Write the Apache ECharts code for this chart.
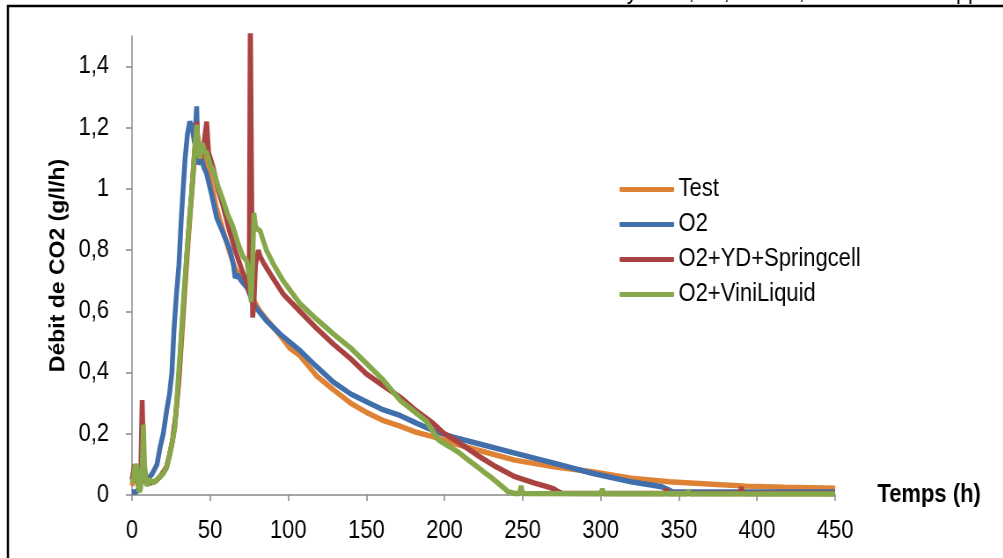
<!DOCTYPE html>
<html>
<head>
<meta charset="utf-8">
<script src="https://cdn.jsdelivr.net/npm/echarts@6/dist/echarts.min.js"></script>
<style>
html,body{margin:0;padding:0;background:#fff;overflow:hidden;width:1003px;height:558px}
#c{width:1140px;height:558px;transform:scaleX(0.88);transform-origin:0 0}
</style>
</head>
<body>
<div id="c"></div>
<script>
var seriesNames = ['Test', 'O2', 'O2+YD+Springcell', 'O2+ViniLiquid'];
var xTicks = [0, 50, 100, 150, 200, 250, 300, 350, 400, 450];
var yTicks = [0, 0.2, 0.4, 0.6, 0.8, 1.0, 1.2, 1.4];

var testData = [[0,0.03],[2,0.08],[4,0.03],[6,0.05],[8,0.06],[10,0.05],[12,0.04],[15,0.045],[18,0.06],[22,0.09],[24,0.13],[26,0.18],[28,0.26],[30,0.37],[32,0.52],[34,0.68],[36,0.83],[38.2,0.98],[40,1.1],[41.5,1.2],[43,1.13],[45,1.12],[47,1.1],[50,1.04],[54,0.94],[58,0.87],[62,0.8],[66,0.74],[70,0.71],[74,0.675],[77.5,0.64],[82,0.6],[86,0.575],[95,0.52],[101,0.48],[107.5,0.455],[118,0.39],[128.7,0.345],[140,0.3],[150,0.27],[160,0.245],[171.5,0.225],[182,0.205],[193,0.19],[205,0.17],[221,0.147],[245,0.114],[270,0.092],[294.5,0.076],[319.4,0.055],[343.7,0.043],[368.5,0.036],[393,0.029],[417.7,0.025],[450,0.022]];

var o2Data = [[0,0.01],[3,0.01],[5,0.03],[7,0.05],[10,0.05],[13,0.07],[16,0.1],[18,0.157],[20,0.2],[22.2,0.277],[24,0.33],[25.5,0.4],[27,0.55],[28.5,0.66],[30,0.75],[31.5,0.9],[32.7,1.0],[34,1.1],[35.5,1.18],[37,1.22],[38.5,1.2],[40,1.15],[41.4,1.27],[42.3,1.08],[44,1.11],[46,1.07],[47.8,1.05],[51,0.98],[54.2,0.906],[58,0.86],[62.7,0.8],[65,0.75],[66,0.71],[67.5,0.72],[70,0.7],[74,0.675],[77.5,0.625],[82,0.595],[86,0.57],[95,0.525],[107.5,0.472],[118,0.42],[128.7,0.37],[140,0.33],[150,0.305],[160,0.28],[171.5,0.26],[182,0.235],[193,0.21],[205,0.19],[220,0.17],[245,0.137],[270,0.104],[294.5,0.071],[319.4,0.043],[339,0.027],[343.7,0.016],[346,0.01],[450,0.01]];

var ydData = [[0,0.05],[1.5,0.1],[2.5,0.1],[4,0.03],[5.5,0.05],[6.5,0.31],[7.5,0.1],[9,0.04],[12,0.04],[15,0.045],[18,0.06],[22,0.09],[24,0.13],[26,0.18],[28,0.26],[30,0.38],[32,0.55],[34,0.7],[36,0.85],[38.2,0.99],[40,1.12],[41.4,1.22],[42.5,1.12],[44,1.1],[46,1.15],[47.8,1.22],[49,1.12],[52,1.07],[55,1.0],[58.5,0.94],[62,0.87],[66,0.8],[70,0.74],[73,0.7],[75,0.66],[75.7,1.6],[76.5,1.6],[77.2,0.58],[78,0.62],[79,0.75],[80.8,0.8],[82,0.78],[84,0.76],[86,0.743],[90,0.71],[96.7,0.657],[107.5,0.6],[118,0.545],[128.7,0.494],[140,0.445],[150,0.396],[160,0.36],[171.5,0.32],[182,0.275],[192.7,0.234],[200,0.2],[210,0.169],[221,0.13],[233,0.092],[245,0.06],[257.7,0.039],[265,0.028],[270,0.02],[272.5,0.011],[275,0.006],[341,0.005],[342,0.02],[343,0.005],[389,0.005],[390,0.025],[391,0.005],[450,0.005]];

var viniData = [[0,0.04],[0.8,0.05],[2,0.1],[3,0.09],[4.5,0.01],[5.5,0.02],[6.5,0.1],[7.3,0.23],[8,0.1],[9.4,0.03],[11,0.05],[13.6,0.04],[16,0.05],[18,0.06],[20,0.07],[22.2,0.09],[24,0.13],[26,0.18],[27.5,0.22],[29.5,0.375],[31,0.48],[32.5,0.6],[33.8,0.7],[36,0.85],[38.2,0.99],[40,1.12],[41.4,1.21],[42.5,1.12],[43.5,1.1],[45,1.15],[46.5,1.12],[47.8,1.12],[50,1.08],[52,1.06],[55,1.01],[58.5,0.96],[61,0.92],[64.8,0.874],[68,0.82],[71,0.78],[73.4,0.765],[75.5,0.7],[76.3,0.63],[77.2,0.75],[78,0.922],[79,0.88],[80,0.87],[82,0.863],[86,0.8],[90.4,0.755],[96.7,0.7],[107.5,0.625],[118,0.575],[128.7,0.527],[140,0.48],[150,0.43],[160,0.38],[171.5,0.31],[180,0.275],[188.6,0.24],[196,0.18],[203.5,0.157],[208.5,0.141],[215,0.115],[221,0.092],[226,0.072],[230.5,0.055],[234,0.04],[238,0.023],[240.5,0.011],[245,0.005],[248,0.005],[249,0.03],[250,0.005],[300,0.004],[301,0.02],[302,0.004],[355,0.004],[356,0.015],[357,0.004],[450,0.003]];

var colors = ['#DE8236', '#416FAB', '#A94341', '#86A84A'];
var font = "'Liberation Sans', Arial, sans-serif";

function fmt(v) { return String(Math.round(v * 10) / 10).replace('.', ','); }

var chart = echarts.init(document.getElementById('c'));
chart.setOption({
  animation: false,
  color: colors,
  grid: { left: 150, right: 191, top: 36, bottom: 63 },
  legend: {
    orient: 'vertical', left: 699, top: 172,
    itemWidth: 62, itemHeight: 5, itemGap: 10, icon: 'roundRect',
    textStyle: { fontFamily: font, fontSize: 25, color: '#000' },
    data: seriesNames
  },
  graphic: [
    { type: 'rect', shape: { x: 9, y: 6, width: 1300, height: 700 }, style: { fill: 'none', stroke: '#000', lineWidth: 2.5 }, silent: true },
    { type: 'text', x: 500, y: 4, style: { text: 'Moût de Chardonnay 2011, 12,7 % vol, NAss initial 180ppm', fontFamily: font, fontSize: 24, fill: '#000', verticalAlign: 'bottom' } }
  ],
  xAxis: {
    type: 'value', min: 0, max: 450, interval: 50,
    name: 'Temps (h)', nameLocation: 'end', nameGap: 48,
    nameTextStyle: { fontFamily: font, fontSize: 25, fontWeight: 'bold', color: '#000', verticalAlign: 'middle', padding: [6, 0, 0, 0] },
    axisLine: { show: true, lineStyle: { color: '#888', width: 1.5 } },
    axisTick: { show: true, inside: false, length: 6, lineStyle: { color: '#888', width: 1.5 }, customValues: xTicks },
    axisLabel: { fontFamily: font, fontSize: 25, color: '#000', margin: 24, customValues: xTicks },
    splitLine: { show: false }
  },
  yAxis: {
    type: 'value', min: 0, max: 1.5,
    name: 'Débit de CO2 (g/l/h)', nameLocation: 'middle', nameGap: 64, nameRotate: 90,
    nameTextStyle: { fontFamily: font, fontSize: 23, fontWeight: 'bold', color: '#000' },
    axisLine: { show: true, lineStyle: { color: '#888', width: 1.5 } },
    axisTick: { show: true, inside: false, length: 7, lineStyle: { color: '#888', width: 1.5 }, customValues: yTicks },
    axisLabel: { fontFamily: font, fontSize: 25, color: '#000', margin: 26, formatter: fmt, customValues: yTicks },
    splitLine: { show: false }
  },
  series: [
    { name: seriesNames[0], type: 'line', data: testData, showSymbol: false, symbol: 'none', lineStyle: { width: 5.5 } },
    { name: seriesNames[1], type: 'line', data: o2Data, showSymbol: false, symbol: 'none', lineStyle: { width: 5.5 } },
    { name: seriesNames[2], type: 'line', data: ydData, showSymbol: false, symbol: 'none', lineStyle: { width: 5.5 } },
    { name: seriesNames[3], type: 'line', data: viniData, showSymbol: false, symbol: 'none', lineStyle: { width: 5.5 } }
  ]
});
</script>
</body>
</html>
